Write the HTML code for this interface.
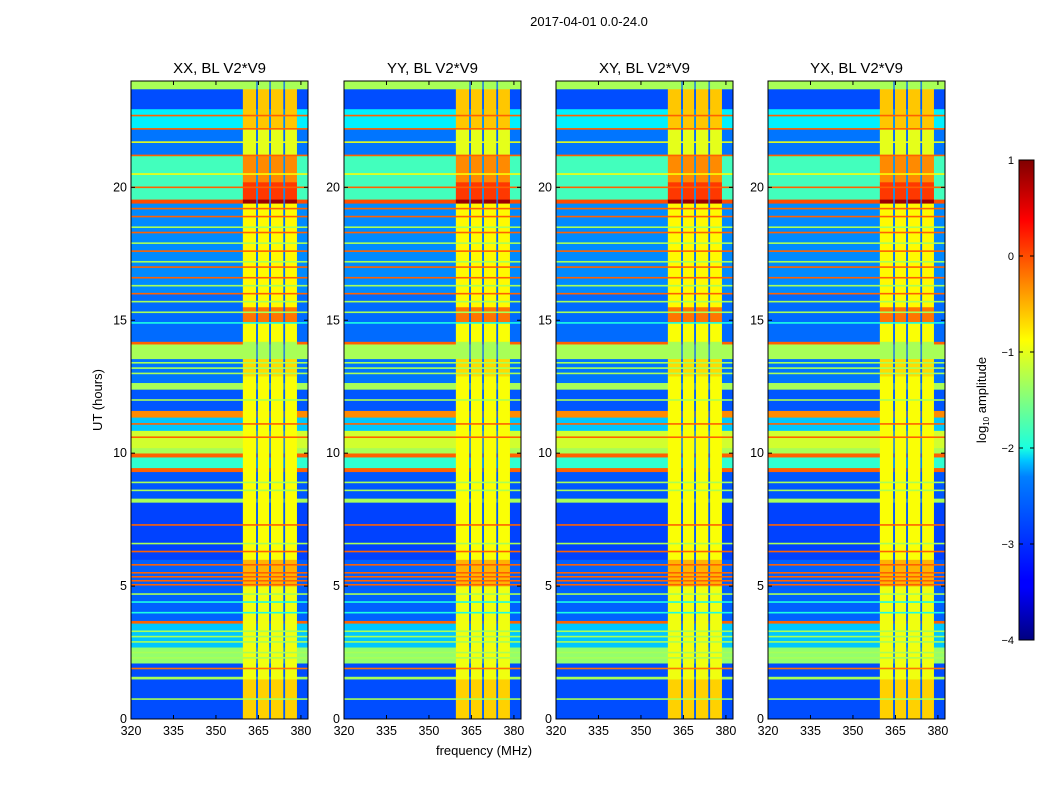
<!DOCTYPE html>
<html><head><meta charset="utf-8">
<style>
html,body{margin:0;padding:0;background:#fff;}
svg{display:block;font-family:"Liberation Sans","DejaVu Sans",sans-serif;}
</style></head>
<body>
<svg id="fig" width="1050" height="800" viewBox="0 0 1050 800">
  <defs>
    <linearGradient id="jet" x1="0" y1="1" x2="0" y2="0">
      <stop offset="0" stop-color="#000080"/>
      <stop offset="0.11" stop-color="#0000ff"/>
      <stop offset="0.125" stop-color="#0000ff"/>
      <stop offset="0.34" stop-color="#0080ff"/>
      <stop offset="0.375" stop-color="#00c8ff"/>
      <stop offset="0.4" stop-color="#1affe0"/>
      <stop offset="0.5" stop-color="#80ff80"/>
      <stop offset="0.625" stop-color="#ffff00"/>
      <stop offset="0.75" stop-color="#ff8000"/>
      <stop offset="0.875" stop-color="#ff0000"/>
      <stop offset="1" stop-color="#800000"/>
    </linearGradient>
  </defs>
  <text x="589" y="26" font-size="13" text-anchor="middle">2017-04-01 0.0-24.0</text>
  <g id="panels"></g>
  <text transform="translate(102,400) rotate(-90)" font-size="13" text-anchor="middle">UT (hours)</text>
  <text x="484" y="755" font-size="13" text-anchor="middle">frequency (MHz)</text>
  <g id="cbar"></g>
</svg>
<script>
// ---- data ----
const panelTitles = ["XX, BL V2*V9", "YY, BL V2*V9", "XY, BL V2*V9", "YX, BL V2*V9"];
const xTicks = [320, 335, 350, 365, 380];
const yTicks = [0, 5, 10, 15, 20];
const cbarTicks = [1, 0, -1, -2, -3, -4];
// background segments: [tStart, tEnd, log10 amplitude]
const baseSegments = [
  [0,1.5,-3.0],[1.5,1.6,-1.3],[1.6,2.1,-3.0],[2.1,2.7,-1.4],[2.7,3.6,-2.4],[3.6,3.7,-0.1],
  [3.7,4.95,-2.9],[4.95,6.0,-2.9],[6.0,8.15,-3.05],[8.15,8.3,-1.3],[8.3,9.3,-2.95],[9.3,9.45,-0.1],
  [9.45,9.85,-1.9],[9.85,10.0,-0.1],[10.0,10.2,-1.3],[10.2,10.85,-1.1],[10.85,11.35,-2.4],
  [11.35,11.6,-0.3],[11.6,12.4,-2.95],[12.4,12.65,-1.3],[12.65,13.55,-2.8],[13.55,14.1,-1.3],
  [14.1,14.2,-0.1],[14.2,16.0,-2.85],[16.0,19.4,-2.7],[19.4,19.55,0.0],[19.55,21.2,-1.8],
  [21.2,22.2,-2.8],[22.2,22.95,-2.2],[22.95,23.7,-3.0],[23.7,24,-1.3]
];
// narrow lines: [t, value]
const lineTimes = [0.75,1.9,2.3,2.5,2.9,3.1,3.3,4.0,4.4,4.7,5.05,5.2,5.35,5.5,5.8,6.3,6.6,7.3,
  8.6,8.9,10.6,11.1,12.0,13.0,13.2,13.4,14.9,15.3,15.7,16.0,16.3,16.6,17.0,17.2,17.6,17.9,18.3,
  18.5,18.9,19.2,20.0,20.5,21.2,21.7,22.2,22.7];
const lineValues = [-1.3,-0.2,-1.3,-1.3,-1.3,-1.3,-1.3,-2.0,-2.0,-1.3,-0.1,-0.1,-0.1,-0.1,-0.1,-0.1,-1.3,-0.1,
  -1.3,-1.3,-0.1,-0.1,-1.3,-1.3,-1.3,-1.3,-2.0,-1.3,-1.3,-0.1,-1.3,-0.1,-0.1,-1.3,-0.1,-1.3,-0.1,
  -1.3,-0.1,-0.1,-0.1,-0.9,-0.1,-1.0,-0.1,-0.1];
// band (RFI-channel) levels: [tStart, tEnd, value]
const bandSegments = [
  [0,1.5,-0.65],[1.5,5.0,-0.95],[5.0,6.0,-0.5],[6.0,12.9,-0.9],[12.9,13.55,-0.7],[13.55,14.2,-1.3],
  [14.2,14.9,-0.9],[14.9,15.5,-0.2],[15.5,19.4,-0.85],[19.4,19.55,0.85],[19.55,20.2,0.1],
  [20.2,21.2,-0.3],[21.2,22.2,-1.0],[22.2,23.7,-0.6],[23.7,24,-1.3]
];
// frequency channel blocks: [fStart, fEnd, kind] kind 1=band, 2=gap
const bandBlocks = [[359.5,364.2,1],[364.2,364.8,2],[364.8,368.8,1],[368.8,369.4,2],[369.4,373.8,1],[373.8,374.4,2],[374.4,378.6,1],[378.6,382.5,2]];

// ---- helpers ----
const NS = "http://www.w3.org/2000/svg";
const panelX = [131, 344, 556, 768], PW = 177, PT = 81, PB = 719;
const fMin = 320, fMax = 382.5, tMax = 24;
function jet(x){
  const v = Math.max(0, Math.min(1, (x + 4) / 5));
  const c = s => Math.round(255 * Math.max(0, Math.min(1, s)));
  return `rgb(${c(1.5-Math.abs(4*v-3))},${c(1.5-Math.abs(4*v-2))},${c(1.5-Math.abs(4*v-1))})`;
}
function mk(tag, attrs, parent){
  const e = document.createElementNS(NS, tag);
  for (const k in attrs) e.setAttribute(k, attrs[k]);
  parent.appendChild(e); return e;
}
const yScale = t => PB - (t / tMax) * (PB - PT);
const xScaleFor = x0 => f => x0 + (f - fMin) / (fMax - fMin) * PW;

const panels = document.getElementById("panels");
panelTitles.forEach((title, pi) => {
  const x0 = panelX[pi], xs = xScaleFor(x0);
  const g = mk("g", {}, panels);
  
  
  baseSegments.forEach(s => {
    const r = mk("rect", {x: x0, y: yScale(s[1]), width: PW, height: yScale(s[0]) - yScale(s[1]) + 0.3, fill: jet(s[2])}, g);
    
    
  });
  bandBlocks.forEach(b => {
    if (b[2] !== 1) return;
    bandSegments.forEach(s => {
      const r = mk("rect", {x: xs(b[0]), y: yScale(s[1]), width: xs(b[1]) - xs(b[0]), height: yScale(s[0]) - yScale(s[1]) + 0.3, fill: jet(s[2])}, g);
      
      
    });
  });
  bandBlocks.forEach(b => {
    if (b[2] !== 2 || b[1] > 380) return;
    const r = mk("rect", {x: xs(b[0]), y: PT, width: xs(b[1]) - xs(b[0]), height: PB - PT, fill: jet(-2.9), opacity: 0.75}, g);
    
    
  });
  lineTimes.forEach((t, i) => {
    const r = mk("rect", {x: x0, y: yScale(t) - 0.8, width: PW, height: 1.6, fill: jet(lineValues[i])}, g);
    
    
  });
  const fr = mk("rect", {x: x0, y: PT, width: PW, height: PB - PT, fill: "none", stroke: "#000", "stroke-width": 1}, g);
  
  
  const tt = mk("text", {x: x0 + PW / 2, y: 73, "font-size": 15, "text-anchor": "middle"}, g);
  tt.textContent = title;
  
  
  xTicks.forEach(f => {
    const x = xs(f);
    mk("line", {x1: x, x2: x, y1: PB, y2: PB - 4, stroke: "#000"}, g);
    mk("line", {x1: x, x2: x, y1: PT, y2: PT + 4, stroke: "#000"}, g);
    const l = mk("text", {x: x, y: PB + 16, "font-size": 12.5, "text-anchor": "middle"}, g);
    l.textContent = f;
    
    
  });
  yTicks.forEach(t => {
    const y = yScale(t);
    mk("line", {x1: x0, x2: x0 + 4, y1: y, y2: y, stroke: "#000"}, g);
    mk("line", {x1: x0 + PW, x2: x0 + PW - 4, y1: y, y2: y, stroke: "#000"}, g);
    const l = mk("text", {x: x0 - 4, y: y + 4, "font-size": 12.5, "text-anchor": "end"}, g);
    l.textContent = t;
    
    
  });
});

// colorbar
const cb = document.getElementById("cbar");
const cbX = 1019, cbW = 15, cbT = 160, cbB = 640, cMin = -4, cMax = 1;
const cScale = v => cbB - (v - cMin) / (cMax - cMin) * (cbB - cbT);
const cr = mk("rect", {x: cbX, y: cbT, width: cbW, height: cbB - cbT, fill: "url(#jet)", stroke: "#000"}, cb);


cbarTicks.forEach(v => {
  const y = cScale(v);
  mk("line", {x1: cbX, x2: cbX + 4, y1: y, y2: y, stroke: "#000"}, cb);
  mk("line", {x1: cbX + cbW, x2: cbX + cbW - 4, y1: y, y2: y, stroke: "#000"}, cb);
  const l = mk("text", {x: 1014, y: y + 4, "font-size": 11, "text-anchor": "end"}, cb);
  l.textContent = v < 0 ? "\u2212" + Math.abs(v) : String(v);
  
  
});
const cl = mk("text", {transform: "translate(986,400) rotate(-90)", "font-size": 13, "text-anchor": "middle"}, cb);
cl.innerHTML = 'log<tspan font-size="8" dy="3">10</tspan><tspan dy="-3"> amplitude</tspan>';


</script>
</body></html>
